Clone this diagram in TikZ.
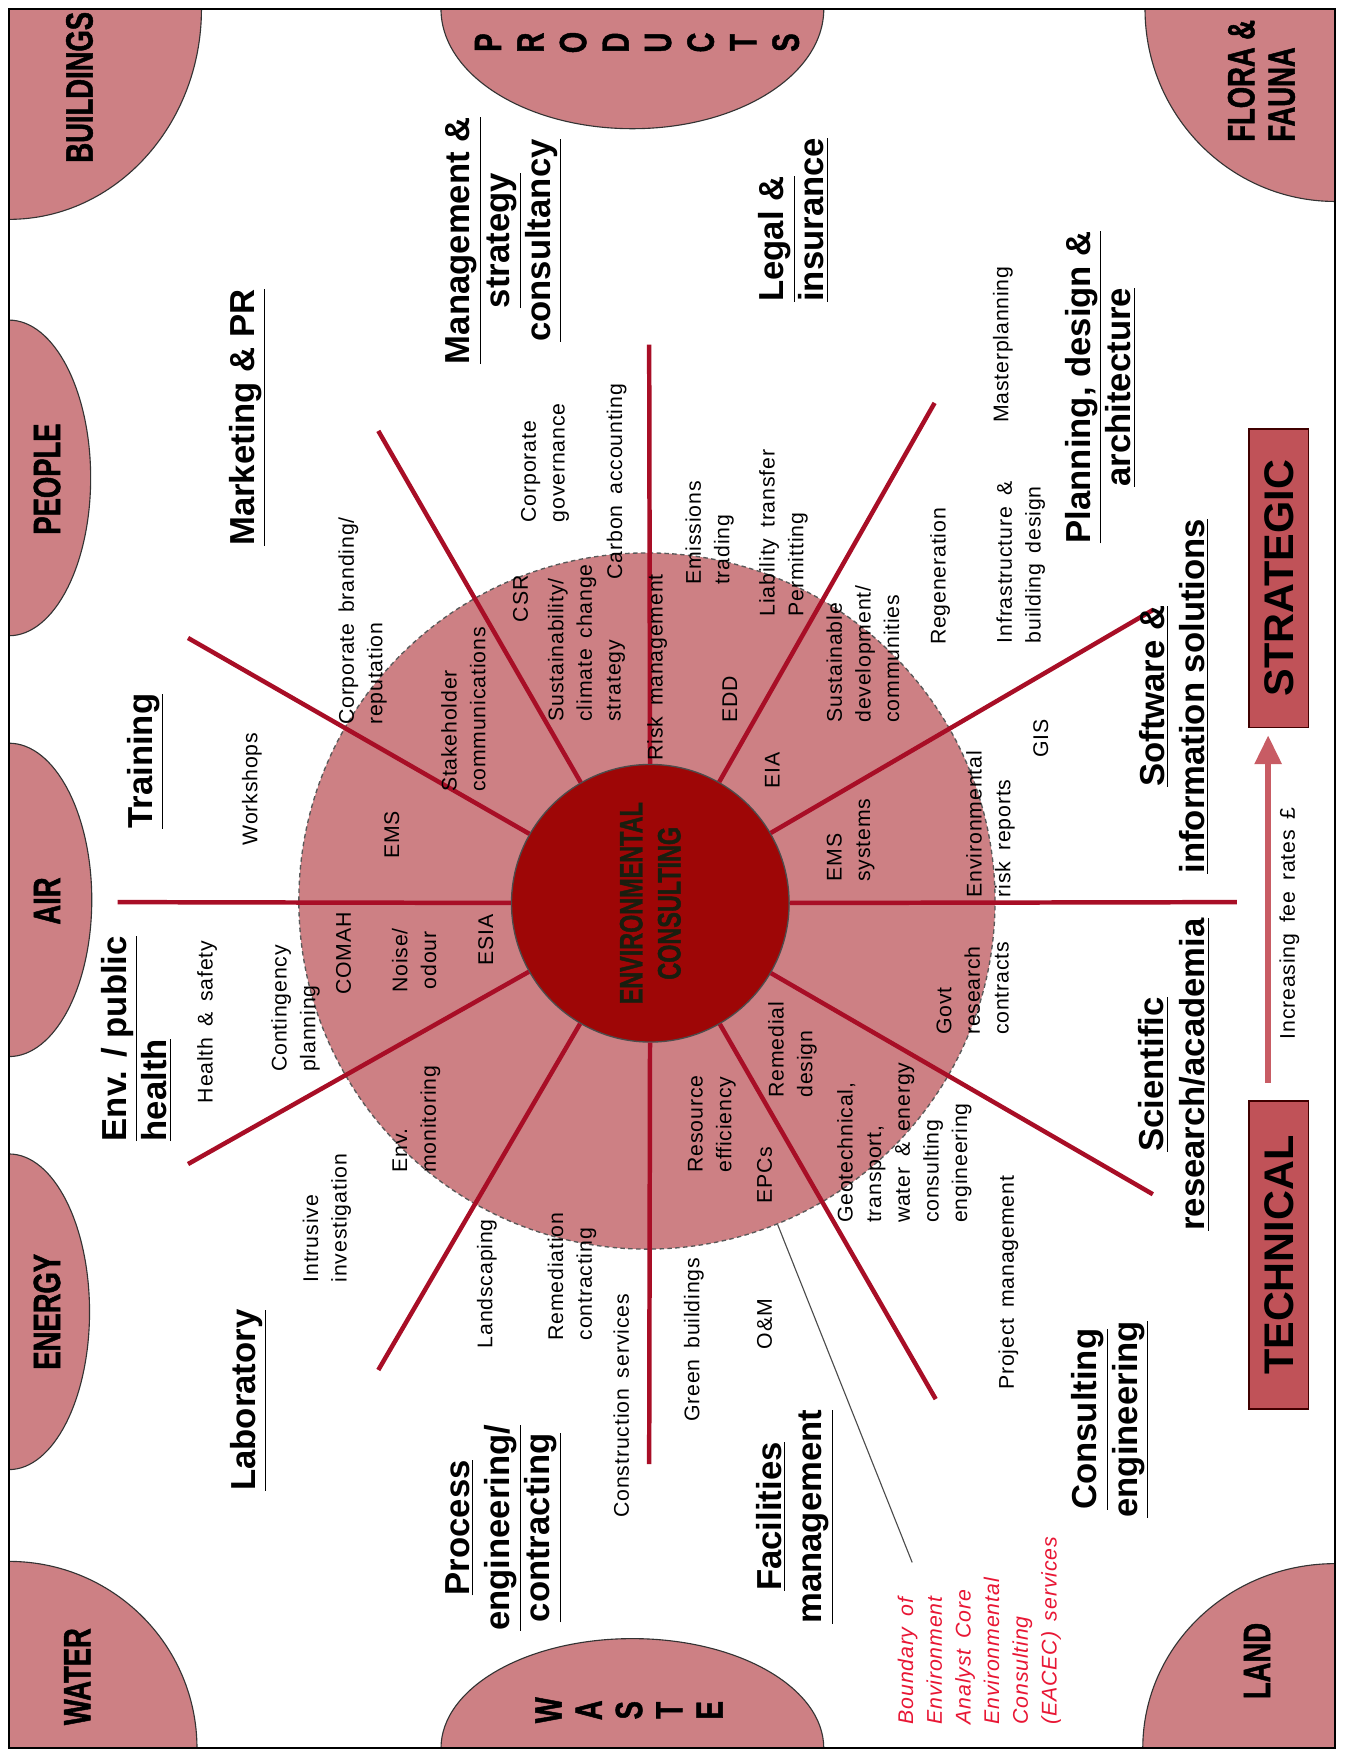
\documentclass[tikz,border=0pt]{standalone}
\usepackage{fontspec}
\setmainfont{Liberation Sans}
\newfontfamily\bodyfont{Liberation Sans}[LetterSpace=4,WordSpace=1.6]
\newfontfamily\headfont{Liberation Sans}
\newfontfamily\condfont{Liberation Sans}[FakeStretch=0.72,FakeBold=1.2]
\usetikzlibrary{arrows.meta}
\definecolor{pinkfill}{RGB}{205,128,132}
\definecolor{coreRed}{RGB}{158,6,6}
\definecolor{spokeRed}{RGB}{168,14,38}
\definecolor{boxFill}{RGB}{192,82,88}
\definecolor{arrowPink}{RGB}{200,92,100}
\definecolor{noteRed}{RGB}{232,22,52}
\definecolor{coreText}{RGB}{25,30,15}
\begin{document}
\begin{tikzpicture}[x=0.5pt,y=0.5pt,
  body/.style={rotate=90, inner sep=0pt, font=\bodyfont\fontsize{9.5}{12.8}\selectfont, align=left},
  bodyc/.style={body, align=center},
  note/.style={body, text=noteRed, font=\bodyfont\itshape\fontsize{9.5}{12.8}\selectfont},
  head/.style={rotate=90, inner sep=0pt, font=\headfont\bfseries\fontsize{15.5}{18}\selectfont, align=center},
  headl/.style={head, align=left},
  circlab/.style={rotate=90, inner sep=0pt, font=\condfont\bfseries\fontsize{17}{18}\selectfont, align=left},
  edgec/.style={fill=pinkfill, draw=black!80, line width=0.5pt},
  spoke/.style={draw=spokeRed, line width=2pt},
  tbox/.style={rotate=90, draw=black!75!red, line width=0.8pt, fill=boxFill, minimum height=26.5pt, inner sep=0pt, font=\headfont\bfseries\fontsize{18.5}{20}\selectfont}
]
\useasboundingbox (0,0) rectangle (1201,-1568);
\fill[white] (0,0) rectangle (1201,-1568);

% edge circles
\begin{scope}
\clip (8,-8) rectangle (1193,-1562);
\draw[edgec] (8,-8) ellipse [x radius=172,y radius=188];
\draw[edgec] (1193,-8) ellipse [x radius=170,y radius=172];
\draw[edgec] (8,-1562) ellipse [x radius=168,y radius=167];
\draw[edgec] (1193,-1562) ellipse [x radius=172,y radius=165];
\draw[edgec] (8,-427) ellipse [x radius=73,y radius=141];
\draw[edgec] (8,-804) ellipse [x radius=74,y radius=140];
\draw[edgec] (8,-1172) ellipse [x radius=72,y radius=141];
\draw[edgec] (565,-8) ellipse [x radius=171,y radius=107];
\draw[edgec] (565,-1562) ellipse [x radius=171,y radius=98];
\end{scope}
\draw[line width=1pt] (8,-8) rectangle (1193,-1562);

% edge circle labels
\node[circlab] (lbuild) at (71,-78) {BUILDINGS};
\node[circlab] (lpeople) at (42,-428) {PEOPLE};
\node[circlab] (lair) at (42,-805) {AIR};
\node[circlab] (lenergy) at (42,-1172) {ENERGY};
\node[circlab] (lwater) at (69,-1498) {WATER};
\node[circlab, anchor=west] (lflora) at (1127,-127) {FLORA \&\\FAUNA};
\node[circlab] (lland) at (1123,-1484) {LAND};
\node[circlab] (pP) at (436,-38) {P};
\node[circlab] (pR) at (474,-38) {R};
\node[circlab] (pO) at (512,-38) {O};
\node[circlab] (pD) at (550,-38) {D};
\node[circlab] (pU) at (588,-38) {U};
\node[circlab] (pC) at (626,-38) {C};
\node[circlab] (pT) at (664,-38) {T};
\node[circlab] (pS) at (702,-38) {S};
\node[circlab] (wW) at (490,-1528) {W};
\node[circlab] (wA) at (526,-1528) {A};
\node[circlab] (wS) at (562,-1528) {S};
\node[circlab] (wT) at (598,-1528) {T};
\node[circlab] (wE) at (634,-1528) {E};

% central disc
\node[circle, fill=pinkfill, draw=black!65, dash pattern=on 2pt off 1.5pt, line width=0.6pt, minimum size=311pt, inner sep=0pt] (disc) at (578,-805) {};
\coordinate (bndEnd) at (815,-1396);
\draw[black!70, line width=0.5pt] (disc.-68.8) -- (bndEnd);

\node[circle, fill=coreRed, draw=black!70, line width=0.6pt, minimum size=124pt, inner sep=0pt] (core) at (581,-807) {};
\coordinate (s0) at (1105,-806);
\coordinate (s30) at (1030,-545);
\coordinate (s60) at (835,-360);
\coordinate (s90) at (580,-308);
\coordinate (s120) at (338,-385);
\coordinate (s150) at (168,-570);
\coordinate (s180) at (105,-806);
\coordinate (s210) at (168,-1040);
\coordinate (s240) at (338,-1224);
\coordinate (s270) at (580,-1308);
\coordinate (s300) at (836,-1250);
\coordinate (s330) at (1030,-1067);
\foreach \a in {0,30,...,330} \draw[spoke] (core) -- (s\a);
\node[rotate=90, inner sep=0pt, align=center, text=coreText, font=\condfont\bfseries\fontsize{14.5}{17}\selectfont] (coretxt) at (core) {ENVIRONMENTAL\\CONSULTING};

% headings
\node[head] (hTrain) at (130,-680) {\underline{Training}};
\node[headl, anchor=west] (hEnv) at (122,-1020) {\underline{Env. / public}\\\underline{health}};
\node[head] (hLab) at (222,-1251) {\underline{Laboratory}};
\node[head] (hMkt) at (221,-373) {\underline{Marketing \& PR}};
\node[head] (hMgmt) at (450,-215) {\underline{Management \&}\\\underline{strategy}\\\underline{consultancy}};
\node[headl, anchor=west] (hLegal) at (709,-270) {\underline{Legal \&}\\\underline{insurance}};
\node[head] (hPlan) at (983,-346) {\underline{Planning, design \&}\\\underline{architecture}};
\node[head] (hSoft) at (1049,-622) {\underline{Software \&}\\\underline{information solutions}};
\node[head] (hSci) at (1049,-960) {\underline{Scientific}\\\underline{research/academia}};
\node[head] (hCons) at (992,-1268) {\underline{Consulting}\\\underline{engineering}};
\node[head] (hFac) at (710,-1355) {\underline{Facilities}\\\underline{management}};
\node[head] (hProc) at (450,-1365) {\underline{Process}\\\underline{engineering/}\\\underline{contracting}};

% body texts
\node[bodyc] (tWork) at (225,-705) {Workshops};
\node[bodyc] (tHS) at (185,-913) {Health \& safety};
\node[body, anchor=west] (tCont) at (264,-958) {Contingency\\planning};
\node[body, anchor=west] (tCorpB) at (324,-648) {Corporate branding/\\reputation};
\node[body, anchor=west] (tIntr) at (292,-1146) {Intrusive\\investigation};
\node[bodyc] (tComah) at (307,-852) {COMAH};
\node[bodyc] (tEms) at (350,-746) {EMS};
\node[bodyc] (tNoise) at (370,-858) {Noise/\\odour};
\node[bodyc] (tEsia) at (434,-840) {ESIA};
\node[body, anchor=west] (tEnvMon) at (372,-1048) {Env.\\monitoring};
\node[body, anchor=west] (tStake) at (414,-708) {Stakeholder\\communications};
\node[bodyc] (tCsr) at (465,-535) {CSR};
\node[body, anchor=west] (tSust) at (524,-645) {Sustainability/\\climate change\\strategy};
\node[body, anchor=west] (tCarbon) at (551,-518) {Carbon accounting};
\node[body, anchor=west] (tGov) at (487,-467) {Corporate\\governance};
\node[body, anchor=west] (tRisk) at (587,-680) {Risk management};
\node[body, anchor=west] (tEmis) at (634,-523) {Emissions\\trading};
\node[bodyc] (tEdd) at (652,-625) {EDD};
\node[body, anchor=west] (tLiab) at (700,-551) {Liability transfer\\Permitting};
\node[bodyc] (tEia) at (690,-688) {EIA};
\node[body, anchor=west] (tSustDev) at (771,-646) {Sustainable\\development/\\communities};
\node[bodyc] (tRegen) at (840,-515) {Regeneration};
\node[body, anchor=west] (tInfra) at (912,-575) {Infrastructure \&\\building design};
\node[bodyc] (tMaster) at (896,-308) {Masterplanning};
\node[body, anchor=west] (tEmsSys) at (760,-788) {EMS\\systems};
\node[body, anchor=west] (tEnvRisk) at (885,-802) {Environmental\\risk reports};
\node[bodyc] (tGis) at (930,-660) {GIS};
\node[body, anchor=west] (tLand) at (435,-1205) {Landscaping};
\node[body, anchor=west] (tRemC) at (511,-1198) {Remediation\\contracting};
\node[bodyc] (tConstr) at (555,-1256) {Construction services};
\node[body, anchor=west] (tRes) at (636,-1048) {Resource\\efficiency};
\node[bodyc] (tEpc) at (683,-1050) {EPCs};
\node[body, anchor=west] (tRemD) at (708,-981) {Remedial\\design};
\node[body, anchor=west] (tGeo) at (808,-1093) {Geotechnical,\\transport,\\water \& energy\\consulting\\engineering};
\node[body, anchor=west] (tProj) at (901,-1242) {Project management};
\node[body, anchor=west] (tGovt) at (869,-925) {Govt\\research\\contracts};
\node[bodyc] (tGreen) at (620,-1197) {Green buildings};
\node[bodyc] (tOM) at (683,-1183) {O\&M};
\node[note, anchor=west] (tNote) at (875,-1541) {Boundary of\\Environment\\Analyst Core\\Environmental\\Consulting\\(EACEC) services};

% scale boxes and arrow
\node[tbox, minimum width=137.5pt] (tech) at (1142.5,-1121.5) {TECHNICAL};
\node[tbox, minimum width=133.5pt] (strat) at (1142.5,-516.5) {STRATEGIC};
\draw[draw=arrowPink, line width=3pt, shorten <=8pt, shorten >=3pt, -{Triangle[length=13pt,width=11.5pt]}] ([xshift=-4.75pt]tech.east) -- ([xshift=-4.75pt]strat.west);
\node[bodyc] (tFee) at (1152,-825) {Increasing fee rates \pounds};
\end{tikzpicture}
\end{document}
